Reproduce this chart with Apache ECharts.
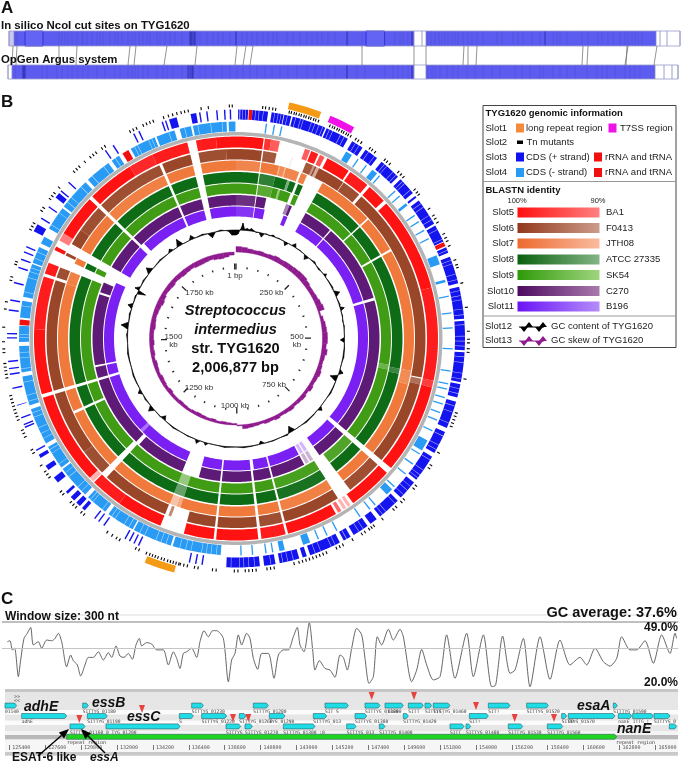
<!DOCTYPE html>
<html>
<head>
<meta charset="utf-8">
<title>TYG1620</title>
<script src="https://cdn.jsdelivr.net/npm/echarts@6/dist/echarts.min.js"></script>
<style>
html, body { margin: 0; padding: 0; background: #fff; }
#fig { width: 681px; height: 763px; }
</style>
</head>
<body>
<div id="fig"></div>
<script>
// ---- panel A: optical map, positions along the map ----
var mapBlocksTop = [[14, 414], [426, 656]];
var mapBlocksBottom = [[12, 414], [426, 655]];
var mapOutlineTop = [9, 14, 414, 422, 426, 656, 660, 667, 680];
var mapOutlineBottom = [8, 12, 414, 426, 655, 664, 672, 678];
var cutSitesTop = [15,17,25,43,59,62,65,68,72,77,82,83,87,92,97,100,103,110,115,118,122,128,132,135,139,143,147,150,157,160,165,170,175,182,193,197,200,207,213,218,223,230,236,242,247,252,257,263,268,273,277,287,293,300,307,312,317,322,328,335,348,362,385,395,400,403,408,412,427,431,435,439,442,445,448,452,455,458,463,468,472,477,483,497,502,513,518,523,532,540,553,557,560,567,582,588,598,602,608,613,620,625,628,632,635,638,642];
var cutSitesTopDark = [190,191,192,194,195,236,347,412,545];
var cutSitesBottom = [15,23,42,47,57,62,68,72,78,83,88,97,105,115,120,128,132,135,138,143,148,157,163,167,173,182,200,205,213,222,230,237,243,250,257,265,272,280,288,297,307,315,322,328,335,347,357,365,385,393,398,403,408,412,427,432,435,440,447,453,458,467,475,483,492,500,515,522,530,540,543,553,560,567,575,587,597,602,607,615,625,630,635,640];
var cutSitesBottomDark = [23,24,25,188,190,192,193,347,412];
var mapLinks = [[13,12],[17,16],[59,59],[77,76],[130,128],[136,134],[167,164],[197,195],[237,235],[246,243],[253,250],[362,362],[414,414],[426,426],[464,463],[468,468],[477,476],[583,582],[588,587],[628,625],[627,626],[657,654]];
var mapBoxes = [[25, 43], [366, 384.5]];

// ---- panel B: circular map, all positions in kb ----
var genomeKb = 2006.877;
var longRepeats = [[71, 115], [1086, 1127]];
var t7ssRegion = [[128, 163]];
var tnMutants = [36,40,45,50,54,73,76,80,83,87,90,94,97,101,104,108,111,115,132,136,139,143,146,150,153,157,160,164,172,176,181,195,199,204,221,225,230,246,251,256,279,284,288,312,323,328,334,352,358,363,370,391,398,402,424,458,491,502,507,515,520,557,605,610,615,620,625,665,685,690,720,725,745,750,760,765,785,800,804,808,815,820,835,850,855,860,875,880,885,890,895,900,905,910,915,922,950,955,960,975,980,985,990,1000,1005,1030,1035,1055,1060,1070,1075,1080,1082,1086,1090,1094,1098,1103,1107,1112,1116,1120,1124,1129,1140,1145,1170,1175,1182,1190,1230,1235,1245,1250,1255,1270,1275,1300,1305,1310,1320,1340,1345,1365,1370,1375,1390,1395,1400,1405,1410,1415,1420,1425,1450,1455,1460,1465,1470,1485,1490,1500,1520,1545,1555,1585,1590,1608,1612,1660,1665,1670,1690,1695,1710,1715,1720,1730,1760,1765,1770,1780,1790,1795,1800,1810,1815,1855,1860,1865,1875,1880,1885,1890,1905,1912,1918,1924,1930,1935,1940,1958,1968,1997,2001];
var plusStrand = [[3,5],[6,17],[23,45],[50,67],[68,78],[80,128],[130,163],[170,187],[192,212],[220,251],[256,282],[287,290],[295,334],[337,362],[371,379],[385,424],[429,474],[477,518],[521,563],[566,585],[591,630],[636,669],[675,714],[719,747],[753,786],[792,803],[808,831],[836,847],[853,898],[903,909],[914,942],[948,964],[970,1017],[1050,1052],[1059,1061],[1068,1070],[1143,1145],[1150,1152],[1157,1159],[1164,1166],[1199,1201],[1208,1210],[1215,1217],[1234,1239],[1243,1250],[1254,1261],[1267,1271],[1288,1297],[1310,1317],[1330,1335],[1341,1343],[1377,1379],[1381,1383],[1391,1393],[1410,1411],[1434,1436],[1454,1456],[1462,1464],[1472,1474],[1505,1507],[1511,1513],[1544,1546],[1558,1560],[1583,1585],[1605,1607],[1617,1619],[1628,1630],[1636,1638],[1661,1672],[1681,1683],[1700,1702],[1717,1725],[1728,1730],[1744,1746],[1812,1814],[1825,1827],[1858,1860],[1866,1868],[1901,1903],[1906,1908],[1912,1923],[1943,1951],[1955,1957],[1965,1967],[1979,1981],[1990,1992],[1998,2000]];
var minusStrand = [[44,46],[56,58],[67,69],[170,180],[190,192],[205,207],[217,226],[230,232],[262,264],[272,274],[287,291],[308,310],[319,321],[334,336],[348,350],[376,390],[414,418],[438,440],[463,465],[485,487],[516,518],[549,551],[568,570],[576,578],[589,591],[599,601],[612,614],[624,626],[641,643],[658,675],[680,682],[698,700],[716,718],[741,743],[747,758],[780,782],[790,792],[808,810],[848,850],[864,866],[878,880],[892,903],[931,939],[948,950],[958,960],[978,980],[995,997],[1026,1098],[1101,1160],[1162,1204],[1210,1243],[1249,1299],[1302,1338],[1344,1399],[1405,1449],[1455,1494],[1500,1524],[1536,1561],[1567,1617],[1619,1644],[1650,1661],[1675,1711],[1714,1762],[1767,1806],[1812,1825],[1845,1884],[1887,1915],[1923,1940],[1943,1993],[1996,2006]];
var plusBoundaries = [9,13,27,32,38,54,59,63,72,84,91,95,107,112,118,124,134,139,151,157,175,181,197,207,225,229,241,247,260,264,276,300,306,320,327,343,358,375,390,395,410,418,434,441,447,460,468,482,498,505,512,527,535,550,558,572,579,597,606,622,642,656,663,680,697,705,710,726,733,741,758,775,781,815,822,842,860,866,882,890,922,930,937,954,977,985,992,998,1010];
var minusBoundaries = [1032,1040,1047,1054,1070,1078,1087,1108,1116,1124,1142,1150,1168,1176,1192,1198,1215,1233,1238,1256,1264,1284,1292,1308,1327,1333,1352,1360,1369,1386,1393,1411,1420,1440,1460,1476,1484,1506,1511,1553,1574,1596,1605,1611,1626,1636,1681,1702,1722,1731,1752,1775,1797,1818,1851,1856,1874,1879,1906,1930,1950,1969,1986];
var rnaPlus = [[18, 23], [363, 369]];
var rnaMinus = [[1525, 1533], [1831, 1841]];

// BLASTN blocks: start kb, end kb, identity %
var ba1 = [[1943,1975,99],[1975,2007,100],[0,44,100],[46,56,97],[56,70,93],[111.5,120,93],[122,134,99],[137,145,94],[150,189,100],[192,226,99],[231,262,100],[268,420,100],[420,569,99],[569,580,96],[580,724,100],[734,806,100],[811,816,85],[819,824,85],[828,834,92],[838,920,100],[924,963,99],[968,1035,100],[1039,1087,100],[1126,1200,100],[1200,1252,99],[1254,1262,85],[1262,1410,100],[1416,1520,100],[1520,1605,99],[1610,1628,99],[1650,1656,100],[1667,1680,90],[1680,1748,100],[1754,1830,100],[1830,1870,98],[1870,1929,99]];
var f0413 = [[1943,1990,99],[1990,2007,100],[0,44,100],[46.3,69,98],[95,97,80],[121,134,98],[134,137,90],[137,140,100],[140,145,88],[145,192,100],[193,226,99],[231,568,100],[570,580,95],[580,724,100],[734,797,99],[822,920,100],[924,963,99],[968,1035,100],[1039,1087,100],[1115,1120,92],[1126,1243,100],[1254,1300,99],[1300,1410,100],[1416,1605,100],[1610,1628,99],[1650,1655,100],[1672,1700,100],[1700,1748,99],[1754,1874,99],[1879,1929,100]];
var jth08 = [[1943,2007,100],[0,44,98],[46,78,100],[78,80,92],[80,89,97],[89,91,90],[91,116,98],[120,131,99],[162,265,100],[268,334,100],[338,560,100],[560,585,97],[585,724,100],[734,797,100],[822,920,99],[924,963,100],[968,1035,100],[1039,1105,100],[1105,1112,92],[1112,1125,88],[1125,1243,100],[1254,1366,100],[1371,1410,100],[1416,1605,100],[1605,1628,99],[1644,1655,100],[1672,1748,100],[1754,1874,99],[1879,1929,100]];
var atcc27335 = [[1943,2007,100],[0,44,100],[46,76,97],[76,100,100],[100,105,90],[105,117,100],[122,132,100],[162,265,100],[268,334,100],[338,560,100],[560,570,96],[570,724,100],[734,797,100],[822,920,99],[924,963,100],[968,1035,100],[1039,1105,100],[1105,1125,92],[1125,1243,100],[1254,1366,100],[1371,1410,100],[1416,1628,100],[1644,1655,100],[1672,1748,100],[1754,1874,100],[1879,1929,100]];
var sk54 = [[1943,2007,100],[0,44,100],[46,76,97],[76,88,100],[88,92,90],[92,115,100],[122,132,100],[162,265,100],[268,334,100],[338,556,100],[556,566,95],[566,724,100],[734,797,98],[822,920,99],[924,963,100],[968,1035,100],[1039,1105,100],[1105,1125,90],[1125,1243,100],[1254,1366,100],[1371,1410,100],[1416,1628,100],[1644,1655,100],[1672,1748,100],[1754,1874,100],[1879,1929,100]];
var c270 = [[1943,2007,100],[0,44,98],[46,68,100],[114,122,90],[122,128,100],[162,228,100],[231,410,100],[416,724,100],[734,805,100],[822,830,85],[833,841,85],[845,920,100],[924,963,100],[968,1035,100],[1039,1087,100],[1126,1240,100],[1249,1410,100],[1416,1441,100],[1445,1605,100],[1610,1633,100],[1672,1748,100],[1754,1874,100],[1879,1929,100]];
var b196 = [[1943,2007,100],[0,44,98],[46,70,100],[118,128,100],[162,228,100],[231,410,100],[416,724,100],[734,805,100],[822,830,85],[833,841,85],[845,920,100],[924,960,100],[968,1035,100],[1039,1087,100],[1126,1254,100],[1254,1262,92],[1262,1410,100],[1416,1441,100],[1445,1644,100],[1672,1748,100],[1761,1874,100],[1879,1929,100]];

// GC content: kb, offset from the mean ring
var gcContent = [[0,-5],[6,-4],[12,0],[14,1],[19.5,7],[25,1],[33,2],[39,1],[45,2.5],[52,1],[60,-0.5],[70,0],[72,-1.5],[78,-4],[85,0],[92,0.5],[100,-0.5],[111,1.5],[120,0],[130,0.5],[146,0],[154,-3.5],[161,0],[172,0],[180,3.5],[187,0],[200,0.5],[218,0],[227,-4],[235,0],[246,0.5],[256,1.5],[265,0],[279,-1],[290,0],[298,0],[304,2.5],[310,0],[325,0.5],[346,1],[356,0],[367,5],[376,0],[390,0.5],[401,1],[407,0],[413,4],[420,0],[435,0.5],[450,-0.5],[465,0.5],[479,0],[498,0],[506,-4],[514,0],[530,0.5],[557,1],[575,0],[593,0],[602,4],[610,0],[612,0],[622,-7],[632,0],[650,0.5],[669,1],[690,0],[716,0],[724,3.5],[732,0],[750,0.5],[780,1],[800,0],[820,0],[831,-6],[842,0],[847,1],[870,0],[892,0.5],[918,0],[928,-3],[936,0],[959,0.5],[981,1],[1003,0],[1037,1],[1060,0],[1086,0],[1093,2.5],[1100,0],[1111,0],[1119,3.5],[1127,0],[1150,0.5],[1175,0],[1199,1],[1230,0],[1239,-4],[1248,0.5],[1274,0],[1284,5],[1294,0],[1316,1],[1333,0],[1342,3.5],[1351,0],[1372,0.5],[1394,1],[1420,0],[1440,0.5],[1461,1],[1490,0],[1516,1],[1532,0],[1543,7],[1554,0],[1578,1],[1593,0],[1602,4.5],[1611,0],[1633,1],[1640,0],[1648,-8],[1654,4.5],[1664,0],[1684,1],[1707,0],[1718,5.5],[1729,0],[1762,1],[1793,0],[1802,3],[1811,0],[1824,0],[1834,7],[1844,0],[1865,0],[1874,4],[1883,0],[1907,1],[1922,0],[1934,-5],[1946,0],[1962,1],[1975,0],[1985,-1],[1994,-5],[2006.9,-5]];
// GC skew per 20 kb bin
var gcSkew = [5.5,5,4,3.5,4,3.5,4,5,4.5,5,5,5.5,6,6,5,4,4,4.5,5.5,6.5,1.5,3,4,4.5,5,5,4,5.5,4,3.5,4,5,4,3.5,4.5,3,4,3.5,3,4,3.5,3,4,3,3.5,2.5,3,3.5,4,1,-1.5,-2,-2.5,-2,-3,-2.5,-3,-3.5,-3,-2.5,-3,-3.5,-3,-3,-4,-3,-3.5,-4,-3,-3.5,-4,-3,-4,-3.5,-4.5,-4,-4,-5,-4.5,-4,-4.5,-5,-6,-5,-4,-4.5,-5,-4,-4.5,-5,-4.5,-4,-5,-5,-4.5,-4,-5,-5.5,-4.5,-3];
var majorTicks = [0,250,500,750,1000,1250,1500,1750,2001];
var minorTicks = [50,100,150,200,300,350,400,450,550,600,650,700,800,850,900,950,1050,1100,1150,1200,1300,1350,1400,1450,1550,1600,1650,1700,1800,1850,1900,1950];
var tickNames = ['1 bp','250 kb','500\nkb','750 kb','1000 kb','1250 kb','1500\nkb','1750 kb'];

// ---- panel C: GC trace and gene track, positions in bp ----
var tracePos = [125279,125443,125586,125729,125954,126097,126301,126505,126710,126873,127179,127384,127690,127997,128201,128405,128610,128916,129161,129325,129570,129774,130040,130244,130550,130857,131163,131470,131674,131940,132185,132430,132696,132941,133165,133370,133513,133819,134126,134432,134841,135148,135454,135658,135862,136067,136271,136577,136884,137088,137333,137599,137864,138110,138518,138825,139029,139233,139437,139642,139948,140153,140357,140623,140868,141276,141623,141889,142196,142502,142808,143053,143217,143462,143789,143993,144136,144402,144749,145056,145362,145669,145873,146118,146384,146690,146997,147201,147446,147712,147957,148222,148631,148937,149346,149550,150061,150368,150674,150980,151389,151798,152206,152717,153432,153841,154454,154964,155209,155638,156088,156394,156905,157314,157927,158540,159152,159765,160378,160787,161298,161808,162217,162626,162932,163443,163851,164362,164873,165384,165894,166201,166303];
var traceGc = [40.6,41,37.1,37.8,25.7,32.8,42,44.2,46.7,39.2,40.6,37.8,41.3,41,42,44.2,40.6,29.9,34.9,32.5,30.7,26,30.7,33.9,33.9,36.3,32.8,35.9,33.9,38.8,34.5,33.9,35.6,33.1,39.2,42,38.8,40.2,39.6,37.1,37.1,30.7,36.3,33.5,29.2,35.6,36.3,37.8,33.9,40.6,45.3,42.7,45.3,45.3,42,23.5,32.8,35.6,43.5,39.2,44.2,42,33.5,28.8,35.6,35.6,25,34.9,37.1,37.1,42.7,46.7,39.2,36.3,48.7,37.1,28.5,32.5,29.2,28.5,25.4,34.9,33.9,28.5,37.8,46.3,43.5,33.5,22.8,25.7,42.7,39.2,45.9,41.3,45.9,42.7,23.5,28.5,37.3,30.7,24.3,25.7,43.5,25,44.2,25.7,43.5,21.4,22.1,43,27.1,28.5,42,21.4,42.7,24.5,41.3,30.7,33.9,30.7,37.8,32.1,30.2,33.5,42.7,37.1,37.1,41,31.4,43.5,35.6,44.2,42];
var gcMean = 37.6;
var positionTicks = [125400,127600,129800,132000,134200,136400,138600,140800,143000,145200,147400,149600,151800,154000,156200,158400,160600,162800,165000];
// start, row, end
var genes = [[125136,0,125852],[129897,0,130244],[136577,0,137292],[140357,0,141276],[144749,0,146179],[147201,0,148120],[148427,0,149550],[149857,0,150776],[150878,0,151287],[151389,0,152410],[154760,0,156088],[157109,0,158437],[162421,0,162667],
	[126158,1,128916],[130183,1,131408],[135821,1,136679],[137190,1,138722],[139499,1,139907],[141337,1,142298],[144034,1,144851],[146588,1,147303],[149550,1,149857],[153595,1,154760],[159255,1,159561],[159663,1,162523],[162727,1,163545],[163606,1,164873],[164914,1,165894],
	[129120,2,130040],[131327,2,135862],[138682,2,139580],[139846,2,140296],[142196,2,144136],[146077,2,146649],[148079,2,148427],[152410,2,153269],[153391,2,153677],[155985,2,156864],[158376,2,159316],[165853,2,166303]];
var geneNames = ['01140','SITTYG_01180','SITTYG_01230','SITTYG_01280','SIT S','SITTYG_01360','_01390','SITT','SITTYG_','SITTYG_01460','SIT!','SITTYG_01520','SITTYG_01590',
	'adhE','SITTYG_01190','S','SITTYG_01220','SITTYG_01260','TYG_01290','SITTYG_013','SITTYG_01380','SITTYG_01420','SIT!','SITTYG_01570','80','nanE','ITTG_!','SITTYG_0',
	'SITTYG_01160','0 TYG_01200','SITTYG_','SITTYG_01270','SITTYG_01300 :0','SITTYG_013','SITTYG_01400','SITT','SITTYG_01480','SITTYG_01530','SITTYG_01560','','SI'];
var repeatRegion = [[128916, 3, 162625]];
// position, level in the track
var tnHits = [[133533,0.83],[129692,1.79],[139110,1.69],[140050,1.69],[147609,-0.42],[150204,-0.42],[154004,0.54],[156374,1.69],[158784,1.69]];

// ---- legend ----
var infoRows = ['Slot1','Slot2','Slot3','Slot4'];
var blastSlots = ['Slot5','Slot6','Slot7','Slot8','Slot9','Slot10','Slot11'];
var blastNames = ['BA1','F0413','JTH08','ATCC 27335','SK54','C270','B196'];
var blastDark = ['#ff0f0f','#93381c','#ee6a2f','#0b610f','#2f9a08','#4d0b60','#6a14f5'];
var blastPale = ['#ff8080','#cc9c8a','#f9bb9e','#82b585','#9fd47e','#a97aac','#b48cfb'];

var SANS = '"Liberation Sans", Arial, sans-serif';
var MONO = '"DejaVu Sans Mono", monospace';
var chart = echarts.init(document.getElementById('fig'));

// polygon along a ring between two genome positions, through the polar axes
function ringItem(r0, r1, color, useIdentity, fade) {
	return function (params, api) {
		var a = api.value(0), b = api.value(1);
		var outer = [], inner = [];
		for (var t = a; ; t += 5) {
			if (t > b) t = b;
			outer.push(api.coord([r1, t]));
			inner.unshift(api.coord([r0, t]));
			if (t >= b) break;
		}
		var id = useIdentity ? api.value(2) : 100;
		return {
			type: 'polygon',
			shape: { points: outer.concat(inner) },
			style: { fill: color, opacity: fade || 1 - (100 - id) * 0.045 }
		};
	};
}
function ring(data, r0, r1, color, useIdentity, fade) {
	return {
		type: 'custom', coordinateSystem: 'polar', silent: true, clip: false,
		renderItem: ringItem(r0, r1, color, useIdentity, fade),
		data: data
	};
}
function spots(list, width) {
	return list.map(function (v) { return [v, v + width]; });
}

// wedge between the base ring and a value, for GC content and GC skew
function wedge(base, color, edge) {
	return function (params, api) {
		var a = api.value(0), va = api.value(1), b = api.value(2), vb = api.value(3);
		return {
			type: 'polygon',
			shape: { points: [api.coord([base, a]), api.coord([base + va, a]), api.coord([base + vb, b]), api.coord([base, b])] },
			style: { fill: color, stroke: color, lineWidth: edge }
		};
	};
}
var gcSegments = [];
for (var i = 0; i < gcContent.length - 1; i++) {
	gcSegments.push([gcContent[i][0], gcContent[i][1], gcContent[i + 1][0], gcContent[i + 1][1]]);
}
var skewSegments = gcSkew.map(function (v, i) {
	return [i * 20, v, Math.min((i + 1) * 20, genomeKb), v];
});

function tickItem(r0, r1, w) {
	return function (params, api) {
		var p = api.coord([r0, api.value(0)]), q = api.coord([r1, api.value(0)]);
		return {
			type: 'line',
			shape: { x1: p[0], y1: p[1], x2: q[0], y2: q[1] },
			style: { stroke: '#222', lineWidth: w }
		};
	};
}

// panel A helpers
var ROW_SPANS = [[0, 15], [34, 48]];
function mapSeries(data, render) {
	return { type: 'custom', xAxisIndex: 0, yAxisIndex: 0, silent: true, clip: false, renderItem: render, data: data };
}
function mapFill(row, color) {
	return function (params, api) {
		var p = api.coord([api.value(0), ROW_SPANS[row][0]]), q = api.coord([api.value(1), ROW_SPANS[row][1]]);
		return { type: 'rect', shape: { x: p[0], y: p[1], width: q[0] - p[0], height: q[1] - p[1] }, style: { fill: color } };
	};
}
function mapLine(row, color, w) {
	return function (params, api) {
		var p = api.coord([api.value(0), ROW_SPANS[row][0]]), q = api.coord([api.value(0), ROW_SPANS[row][1]]);
		return { type: 'line', shape: { x1: p[0], y1: p[1], x2: q[0], y2: q[1] }, style: { stroke: color, lineWidth: w } };
	};
}
function lineList(list) {
	return list.map(function (v) { return [v, 0]; });
}

function geneItem(fill, names) {
	return function (params, api) {
		var p = api.coord([api.value(0), api.value(1) + 0.5]);
		var q = api.coord([api.value(2), api.value(1) + 0.5]);
		var h = 2.5, tip = 2;
		var kids = [{
			type: 'polygon',
			shape: { points: [[p[0], p[1] - h], [q[0] - tip, p[1] - h], [q[0], p[1]], [q[0] - tip, p[1] + h], [p[0], p[1] + h]] },
			style: { fill: fill, stroke: '#2b5f66', lineWidth: 0.6 }
		}];
		var name = names && names[params.dataIndex];
		if (name) {
			kids.push({
				type: 'text', x: p[0], y: p[1] + 6,
				style: { text: name, font: '4.6px ' + MONO, fill: '#444', verticalAlign: 'middle' }
			});
		}
		return { type: 'group', children: kids };
	};
}

// ---- text and legend furniture ----
var g = [];
function text(x, y, s, font, fill, align) {
	g.push({
		type: 'text', x: x, y: y, z: 50,
		style: { text: s, font: font, fill: fill || '#111', textAlign: align || 'left', textVerticalAlign: 'middle' }
	});
}
function rect(x, y, w, h, fill, stroke, z) {
	g.push({
		type: 'rect', z: z === undefined ? 50 : z,
		shape: { x: x, y: y, width: w, height: h },
		style: { fill: fill, stroke: stroke || null, lineWidth: stroke ? 1 : 0 }
	});
}
function arrow(x1, y1, x2, y2) {
	var d = Math.sqrt((x2 - x1) * (x2 - x1) + (y2 - y1) * (y2 - y1));
	var ux = (x2 - x1) / d, uy = (y2 - y1) / d, L = 10, W = 4;
	g.push({ type: 'line', z: 60, shape: { x1: x1, y1: y1, x2: x2 - ux * L, y2: y2 - uy * L }, style: { stroke: '#000', lineWidth: 1.4 } });
	g.push({
		type: 'polygon', z: 60,
		shape: { points: [[x2, y2], [x2 - ux * L - uy * W, y2 - uy * L + ux * W], [x2 - ux * L + uy * W, y2 - uy * L - ux * W]] },
		style: { fill: '#000' }
	});
}
function bumps(x, y, color) {
	g.push({ type: 'line', z: 50, shape: { x1: x, y1: y, x2: x + 25, y2: y }, style: { stroke: color, lineWidth: 1 } });
	[[5, 1], [10, -1], [20, 1], [24, -1]].forEach(function (b) {
		g.push({
			type: 'polygon', z: 50,
			shape: { points: [[x + b[0] - 4, y], [x + b[0], y + b[1] * 5], [x + b[0] + 4, y]] },
			style: { fill: color }
		});
	});
}

// panel letters and headings
text(1, 8, 'A', 'bold 17px ' + SANS);
text(1, 26, 'In silico NcoI cut sites on TYG1620', 'bold 11.4px ' + SANS);
text(1, 60, 'OpGen Argus system', 'bold 11.4px ' + SANS);
text(1, 102, 'B', 'bold 17px ' + SANS);
text(1, 599, 'C', 'bold 17px ' + SANS);
text(5, 617, 'Window size: 300 nt', 'bold 12px ' + SANS);
text(677, 613, 'GC average: 37.6%', 'bold 14.5px ' + SANS, '#111', 'right');
text(678, 628, '49.0%', 'bold 12px ' + SANS, '#111', 'right');
text(678, 683, '20.0%', 'bold 12px ' + SANS, '#111', 'right');

// centre of the circle
text(235.5, 310.5, 'Streptococcus', 'italic bold 14.6px ' + SANS, '#111', 'center');
text(235.5, 330, 'intermedius', 'italic bold 14.6px ' + SANS, '#111', 'center');
text(235.5, 349, 'str. TYG1620', 'bold 14.6px ' + SANS, '#111', 'center');
text(235.5, 368, '2,006,877 bp', 'bold 14.6px ' + SANS, '#111', 'center');
var tickLabelAt = [[235, 276], [271.5, 293], [297, 341], [274, 384.5], [235, 406], [199, 388], [173.5, 341], [199.5, 293]];
tickNames.forEach(function (s, i) {
	text(tickLabelAt[i][0], tickLabelAt[i][1], s, '8px ' + SANS, '#333', 'center');
});

// legend box
rect(483, 105.5, 193, 242, '#fff', '#444', 40);
g.push({ type: 'line', z: 45, shape: { x1: 483, y1: 181.5, x2: 676, y2: 181.5 }, style: { stroke: '#999', lineWidth: 1.2 } });
g.push({ type: 'line', z: 45, shape: { x1: 483, y1: 316, x2: 676, y2: 316 }, style: { stroke: '#999', lineWidth: 1.2 } });
text(485.5, 113, 'TYG1620 genomic information', 'bold 9.5px ' + SANS);
var infoY = [128, 142, 157, 172.5];
infoRows.forEach(function (s, i) { text(485.5, infoY[i], s, '9.5px ' + SANS, '#222'); });
rect(516, 123.5, 8, 9, '#f58a3c');
text(526, 128, 'long repeat region', '9.5px ' + SANS, '#222');
rect(608.5, 123.5, 8, 9, '#f010e8');
text(620, 128, 'T7SS region', '9.5px ' + SANS, '#222');
rect(517, 140.5, 6, 3.5, '#000');
text(526.5, 142, 'Tn mutants', '9.5px ' + SANS, '#222');
rect(516, 152.5, 8, 9, '#1010f0');
text(526, 157, 'CDS (+ strand)', '9.5px ' + SANS, '#222');
rect(594, 152.5, 8, 9, '#f01010');
text(605, 157, 'rRNA and tRNA', '9.5px ' + SANS, '#222');
rect(516, 168, 8, 9, '#2a9bf5');
text(526, 172.5, 'CDS (- strand)', '9.5px ' + SANS, '#222');
rect(594, 168, 8, 9, '#f01010');
text(605, 172.5, 'rRNA and tRNA', '9.5px ' + SANS, '#222');
text(485.5, 190, 'BLASTN identity', 'bold 9.5px ' + SANS);
text(507.5, 200.5, '100%', '7.5px ' + SANS, '#222');
text(590.5, 200.5, '90%', '7.5px ' + SANS, '#222');
var blastY = [212.5, 228, 243.5, 259.5, 275, 291, 306.5];
blastSlots.forEach(function (s, i) {
	text(514, blastY[i], s, '9.5px ' + SANS, '#222', 'right');
	rect(517.5, blastY[i] - 5, 82, 10, new echarts.graphic.LinearGradient(0, 0, 1, 0, [{ offset: 0, color: blastDark[i] }, { offset: 1, color: blastPale[i] }]));
	text(606, blastY[i], blastNames[i], '9.5px ' + SANS, '#222');
});
text(485, 326.5, 'Slot12', '9.5px ' + SANS, '#222');
bumps(519, 327, '#000');
text(551, 326.5, 'GC content of TYG1620', '9.5px ' + SANS, '#222');
text(485, 340.5, 'Slot13', '9.5px ' + SANS, '#222');
bumps(519, 341, '#8e1a8e');
text(551, 340.5, 'GC skew of TYG1620', '9.5px ' + SANS, '#222');

// gene track background
rect(5, 689, 673, 67, '#e6e6e6', null, -2);
rect(5, 689, 673, 3, '#c6c6c6', null, -1);
rect(5, 710, 673, 4.5, '#fbfbfb', null, -1);
rect(5, 720.5, 673, 4.5, '#fbfbfb', null, -1);
rect(5, 731, 673, 4, '#f4f4f4', null, -1);
rect(5, 735, 673, 4.5, '#b9b9b9', null, -1);
rect(5, 739.5, 673, 12.5, '#f6f6f6', null, -1);
rect(5, 752, 673, 3.5, '#c9c9c9', null, -1);
g.push({ type: 'line', z: 1, shape: { x1: 5, y1: 615, x2: 678, y2: 615 }, style: { stroke: '#ddd', lineWidth: 1 } });

// gene names, hand labels and arrows
text(17, 696.5, '>>', '5px ' + MONO, '#555', 'center');
text(17, 700.5, '<<', '5px ' + MONO, '#555', 'center');
text(24, 707, 'adhE', 'italic bold 14px ' + SANS);
text(92, 703.5, 'essB', 'italic bold 14px ' + SANS);
text(127, 717.5, 'essC', 'italic bold 14px ' + SANS);
text(577, 706, 'esaA', 'italic bold 14px ' + SANS);
text(617, 729, 'nanE', 'italic bold 14px ' + SANS);
text(12, 758, 'ESAT-6 like', 'bold 12px ' + SANS);
text(90, 758, 'essA', 'italic bold 12px ' + SANS);
text(67, 742.5, 'repeat_region', '5px ' + MONO, '#444');
text(616, 742.5, 'repeat region', '5px ' + MONO, '#444');
arrow(38, 756, 69, 729);
arrow(105, 753, 81, 729);

var option = {
	animation: false,
	backgroundColor: '#fff',
	grid: [
		{ left: 0, width: 681, top: 31, height: 48 },
		{ left: 0, width: 681, top: 622, height: 68 },
		{ left: 0, width: 681, top: 690, height: 52 }
	],
	xAxis: [
		{ gridIndex: 0, type: 'value', min: 0, max: 681, show: false },
		{ gridIndex: 1, type: 'value', min: 124830, max: 166568, show: false },
		{
			gridIndex: 2, type: 'value', min: 124830, max: 166568, position: 'bottom', offset: 3,
			axisLine: { show: false, onZero: false },
			splitLine: { show: false },
			axisTick: { customValues: positionTicks, length: 5, lineStyle: { color: '#555', width: 0.8 } },
			axisLabel: {
				customValues: positionTicks, align: 'left', margin: 0, padding: [0, 0, 0, 3],
				fontFamily: 'DejaVu Sans Mono', fontSize: 5, color: '#555',
				hideOverlap: false, showMinLabel: true, showMaxLabel: true,
				formatter: function (v) { return String(v); }
			}
		}
	],
	yAxis: [
		{ gridIndex: 0, type: 'value', min: 0, max: 48, inverse: true, show: false },
		{ gridIndex: 1, type: 'value', min: 20, max: 49, show: false },
		{ gridIndex: 2, type: 'value', min: -1, max: 4, inverse: true, show: false }
	],
	polar: { center: [236, 338.5], radius: [0, 250] },
	radiusAxis: { type: 'value', min: 0, max: 250, show: false },
	angleAxis: { type: 'value', min: 0, max: genomeKb, startAngle: 90, clockwise: true, show: false },
	graphic: { elements: g },
	series: [
		// panel A
		mapSeries(mapBlocksTop, mapFill(0, '#5c5cf0')),
		mapSeries(mapBlocksBottom, mapFill(1, '#5c5cf0')),
		mapSeries([[9, 14]], mapFill(0, '#c9c9f0')),
		mapSeries(mapBoxes, function (params, api) {
			var p = api.coord([api.value(0), 0]), q = api.coord([api.value(1), 15]);
			return { type: 'rect', shape: { x: p[0], y: p[1], width: q[0] - p[0], height: q[1] - p[1] }, style: { fill: '#6464f4', stroke: '#2a2ae0', lineWidth: 1 } };
		}),
		mapSeries(lineList(cutSitesTop), mapLine(0, '#5050d8', 0.7)),
		mapSeries(lineList(cutSitesTopDark), mapLine(0, '#2a2aa8', 0.9)),
		mapSeries(lineList(cutSitesBottom), mapLine(1, '#5050d8', 0.7)),
		mapSeries(lineList(cutSitesBottomDark), mapLine(1, '#2a2aa8', 0.9)),
		mapSeries(lineList(mapOutlineTop), mapLine(0, '#8585c0', 0.8)),
		mapSeries(lineList(mapOutlineBottom), mapLine(1, '#8585c0', 0.8)),
		mapSeries([[9, 680]], function (params, api) {
			var p = api.coord([api.value(0), 0]), q = api.coord([api.value(1), 15]);
			return { type: 'rect', shape: { x: p[0], y: p[1], width: q[0] - p[0], height: q[1] - p[1] }, style: { fill: 'none', stroke: '#9a9acc', lineWidth: 0.8 } };
		}),
		mapSeries([[8, 678]], function (params, api) {
			var p = api.coord([api.value(0), 34]), q = api.coord([api.value(1), 48]);
			return { type: 'rect', shape: { x: p[0], y: p[1], width: q[0] - p[0], height: q[1] - p[1] }, style: { fill: 'none', stroke: '#9a9acc', lineWidth: 0.8 } };
		}),
		mapSeries(mapLinks, function (params, api) {
			var p = api.coord([api.value(0), 15]), q = api.coord([api.value(1), 34]);
			return { type: 'line', shape: { x1: p[0], y1: p[1], x2: q[0], y2: q[1] }, style: { stroke: '#666', lineWidth: 0.7 } };
		}),

		// panel B, outer tracks first
		ring(longRepeats, 235, 242, '#f59a14'),
		ring(t7ssRegion, 235, 242, '#f010e8'),
		ring(spots(tnMutants, 1.5), 231, 234, '#000'),
		ring(plusStrand, 219, 229, '#1414ee'),
		ring(spots(plusBoundaries, 0.8), 219, 229, '#fff', false, 0.7),
		ring(rnaPlus, 219, 229, '#f01010'),
		ring(minusStrand, 207, 217, '#2a9bf5'),
		ring(spots(minusBoundaries, 0.8), 207, 217, '#fff', false, 0.7),
		ring(rnaMinus, 207, 217, '#f01010'),
		ring([[0, genomeKb]], 203, 206.5, '#b4b4b4'),
		ring(ba1, 191, 202, '#ff1212', true),
		ring(f0413, 179, 189.5, '#9a4628', true),
		ring(jth08, 168, 178, '#ef7a3c', true),
		ring(atcc27335, 156, 166.5, '#0f6c16', true),
		ring(sk54, 145, 155, '#3f9c14', true),
		ring(c270, 133, 143.5, '#5d1a76', true),
		ring(b196, 122, 132, '#7a20f2', true),
		{ type: 'custom', coordinateSystem: 'polar', silent: true, clip: false, renderItem: wedge(108.5, '#000', 0.6), data: gcSegments },
		{ type: 'custom', coordinateSystem: 'polar', silent: true, clip: false, renderItem: wedge(86.5, '#8e1a8e', 0.4), data: skewSegments },
		{ type: 'custom', coordinateSystem: 'polar', silent: true, clip: false, renderItem: tickItem(69, 75, 1.3), data: lineList(majorTicks) },
		{ type: 'custom', coordinateSystem: 'polar', silent: true, clip: false, renderItem: tickItem(70, 72, 1.3), data: lineList(minorTicks) },

		// panel C
		{
			type: 'line', xAxisIndex: 1, yAxisIndex: 1, silent: true, symbol: 'none', smooth: 0.25,
			lineStyle: { color: '#555', width: 0.9 },
			data: tracePos.map(function (x, i) { return [x, traceGc[i]]; }),
			markLine: {
				silent: true, symbol: 'none', label: { show: false },
				data: [
					[{ coord: [124950, 49], lineStyle: { color: '#aaa', width: 1.5, type: 'solid' } }, { coord: [166400, 49] }],
					[{ coord: [124950, gcMean], lineStyle: { color: '#c4c4c4', width: 1, type: 'solid' } }, { coord: [166400, gcMean] }]
				]
			}
		},
		{ type: 'custom', xAxisIndex: 2, yAxisIndex: 2, silent: true, clip: false, renderItem: geneItem('#1edde6', geneNames), data: genes },
		{ type: 'custom', xAxisIndex: 2, yAxisIndex: 2, silent: true, clip: false, renderItem: geneItem('#1fd41f'), data: repeatRegion },
		{
			type: 'scatter', xAxisIndex: 2, yAxisIndex: 2, silent: true,
			symbol: 'triangle', symbolSize: [6, 8], symbolRotate: 180,
			itemStyle: { color: '#e8423e', opacity: 1 },
			data: tnHits
		}
	]
};
chart.setOption(option);
</script>
</body>
</html>
